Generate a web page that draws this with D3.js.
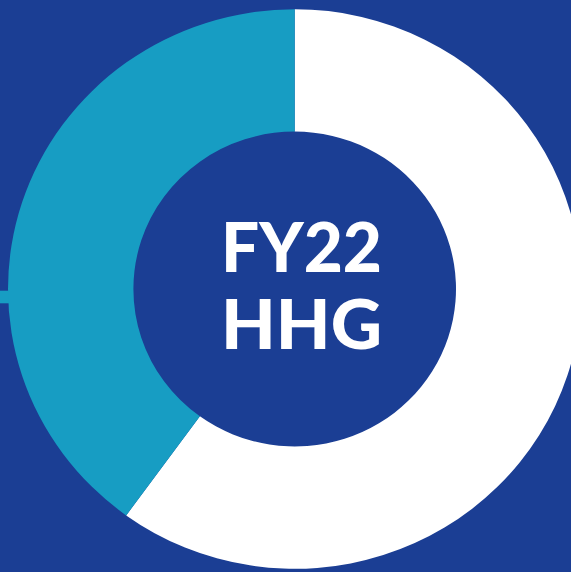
<!DOCTYPE html>
<html>
<head>
<meta charset="utf-8">
<script src="https://cdn.jsdelivr.net/npm/d3@7"></script>
<style>
html,body{margin:0;padding:0;background:#1b3e94;}
svg{display:block;}
</style>
</head>
<body>
<script>
const categories = ["Share A", "Share B"];
const values = [60, 40];
const colors = ["#ffffff", "#179dc3"];
const centerLines = ["FY22", "HHG"];

const W = 571, H = 572;
const cx = 294.7, cy = 289, sy = 0.976;
const outerR = 286.7, innerR = 161.3;

const svg = d3.select("body").append("svg").attr("width", W).attr("height", H);
svg.append("rect").attr("width", W).attr("height", H).attr("fill", "#1b3e94");

const color = d3.scaleOrdinal().domain(categories).range(colors);
const pie = d3.pie().sort(null).value(d => d.v);
const arc = d3.arc().innerRadius(innerR).outerRadius(outerR);
const data = categories.map((c, i) => ({c, v: values[i]}));

// small stub on the left edge
svg.append("rect").attr("x", 0).attr("y", 290.7).attr("width", 14).attr("height", 12.6).attr("fill", colors[1]);

const g = svg.append("g").attr("transform", `translate(${cx},${cy}) scale(1,${sy})`);
g.selectAll("path").data(pie(data)).join("path")
  .attr("d", arc).attr("fill", d => color(d.data.c));

const t = svg.append("g").attr("fill", "#ffffff")
  .attr("font-family", "Lato, 'Open Sans', sans-serif").attr("font-weight", 900)
  .attr("text-anchor", "middle");
const baselines = [272, 348.5];
centerLines.forEach((s, i) => {
  const el = t.append("text").attr("x", 301.5).attr("y", baselines[i]).attr("font-size", 69).text(s);
  el.attr("textLength", 161).attr("lengthAdjust", "spacingAndGlyphs");
});
</script>
</body>
</html>
